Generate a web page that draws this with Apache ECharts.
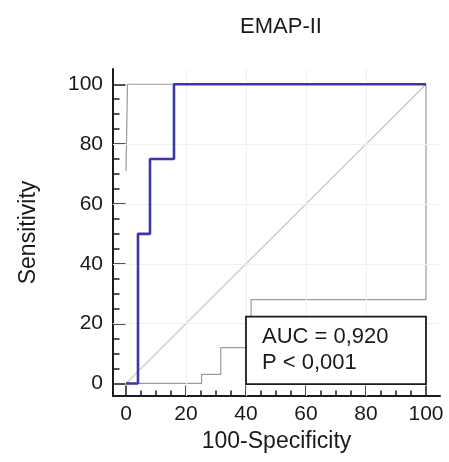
<!DOCTYPE html>
<html><head><meta charset="utf-8">
<script src="https://cdn.jsdelivr.net/npm/echarts@6/dist/echarts.min.js"></script>
<style>html,body{margin:0;padding:0;background:#fff}#c{width:449px;height:462px}</style>
</head><body><div id="c"></div>
<script>
// ---- data ----
var titleText = 'EMAP-II';
var xName = '100-Specificity';
var yName = 'Sensitivity';
var majorTicks = [0, 20, 40, 60, 80, 100];
var minorTicks = [5, 10, 15, 25, 30, 35, 45, 50, 55, 65, 70, 75, 85, 90, 95];
// ROC curve vertices (100-Specificity, Sensitivity)
var rocX = [0, 4, 4, 8, 8, 16, 16, 100];
var rocY = [0, 0, 50, 50, 75, 75, 100, 100];
// upper confidence bound
var upX = [0, 0.5, 100];
var upY = [71, 100, 100];
// lower confidence bound
var loX = [0, 25.2, 25.2, 31.6, 31.6, 41.7, 41.7, 100, 100];
var loY = [0, 0, 3, 3, 12, 12, 28, 28, 100];
// reference diagonal
var diagX = [0, 100];
var diagY = [0, 100];
// statistics box
var statLines = ['AUC = 0,920', 'P < 0,001'];
var boxX = [40, 100];
var boxY = [-0.2, 22.3];

function pairs(xs, ys) { return xs.map(function (x, i) { return [x, ys[i]]; }); }

var FONT = '"Liberation Sans", Arial, Helvetica, sans-serif';
var xMin = -4.33, xMax = 104.67, yMin = -4.2, yMax = 105.1;

var chart = echarts.init(document.getElementById('c'), null, { renderer: 'canvas' });
chart.setOption({
  backgroundColor: '#fff',
  animation: false,
  title: {
    text: titleText, left: 276, top: 11, textAlign: 'center',
    textStyle: { fontFamily: FONT, fontSize: 22, fontWeight: 'normal', color: '#1a1a1a' }
  },
  grid: { left: 113, right: 9, top: 69, bottom: 66, containLabel: false },
  xAxis: [{
    type: 'value', min: xMin, max: xMax, position: 'bottom',
    name: xName, nameLocation: 'middle', nameGap: 33,
    nameTextStyle: { fontFamily: FONT, fontSize: 23, color: '#1a1a1a' },
    axisLine: { show: true, onZero: false, lineStyle: { color: '#1a1a1a', width: 2 } },
    axisTick: { show: true, inside: true, length: 10.5, customValues: majorTicks, lineStyle: { color: '#1a1a1a', width: 1.5 } },
    axisLabel: { show: true, customValues: majorTicks, margin: 8, fontFamily: FONT, fontSize: 21, color: '#1a1a1a' },
    splitLine: { show: false }
  }, {
    type: 'value', min: xMin, max: xMax, position: 'bottom',
    axisLine: { show: false, onZero: false },
    axisTick: { show: true, inside: true, length: 5.5, customValues: minorTicks, lineStyle: { color: '#1a1a1a', width: 1.5 } },
    axisLabel: { show: false },
    splitLine: { show: false }
  }],
  yAxis: [{
    type: 'value', min: yMin, max: yMax, position: 'left',
    name: yName, nameLocation: 'middle', nameGap: 73, nameRotate: 90,
    nameTextStyle: { fontFamily: FONT, fontSize: 23, color: '#1a1a1a' },
    axisLine: { show: true, onZero: false, lineStyle: { color: '#1a1a1a', width: 2 } },
    axisTick: { show: true, inside: true, length: 12.5, customValues: majorTicks, lineStyle: { color: '#1a1a1a', width: 1.5 } },
    axisLabel: { show: true, customValues: majorTicks, margin: 10, fontFamily: FONT, fontSize: 21, color: '#1a1a1a' },
    splitLine: { show: false }
  }, {
    type: 'value', min: yMin, max: yMax, position: 'left',
    axisLine: { show: false, onZero: false },
    axisTick: { show: true, inside: true, length: 6.5, customValues: minorTicks, lineStyle: { color: '#1a1a1a', width: 1.5 } },
    axisLabel: { show: false },
    splitLine: { show: false }
  }],
  series: [
    {
      type: 'line', name: 'grid', xAxisIndex: 0, yAxisIndex: 0, data: [], z: 1, silent: true,
      markLine: {
        silent: true, symbol: 'none', label: { show: false },
        lineStyle: { color: '#f0f0f0', width: 1, type: 'solid' },
        data: [20, 40, 60, 80].map(function (v) { return { xAxis: v }; })
          .concat([20, 40, 60, 80].map(function (v) { return { yAxis: v }; }))
      }
    },
    {
      type: 'line', name: 'diagonal', xAxisIndex: 0, yAxisIndex: 0, z: 2,
      data: pairs(diagX, diagY), symbol: 'none', silent: true,
      lineStyle: { color: '#c4c4c4', width: 1.2 }
    },
    {
      type: 'line', name: 'upper', xAxisIndex: 0, yAxisIndex: 0, z: 3,
      data: pairs(upX, upY), symbol: 'none', silent: true,
      lineStyle: { color: '#9a9a9a', width: 1.2 }
    },
    {
      type: 'line', name: 'lower', xAxisIndex: 0, yAxisIndex: 0, z: 3,
      data: pairs(loX, loY), symbol: 'none', silent: true,
      lineStyle: { color: '#9a9a9a', width: 1.2 }
    },
    {
      type: 'custom', name: 'box', xAxisIndex: 0, yAxisIndex: 0, z: 10, silent: true, clip: false,
      data: [[boxX[0], boxY[0], boxX[1], boxY[1]]],
      encode: { x: [0, 2], y: [1, 3] },
      renderItem: function (params, api) {
        var p0 = api.coord([api.value(0), api.value(3)]);
        var p1 = api.coord([api.value(2), api.value(1)]);
        return {
          type: 'group',
          children: [{
            type: 'rect',
            shape: { x: p0[0], y: p0[1], width: p1[0] - p0[0], height: p1[1] - p0[1] },
            style: { fill: '#ffffff', stroke: '#1a1a1a', lineWidth: 1.8 }
          }, {
            type: 'text',
            x: p0[0] + 16, y: (p0[1] + p1[1]) / 2,
            style: {
              text: statLines.join('\n'), fontFamily: FONT, fontSize: 22, lineHeight: 26,
              fill: '#1a1a1a', align: 'left', verticalAlign: 'middle'
            }
          }]
        };
      }
    },
    {
      type: 'line', name: 'ROC', xAxisIndex: 0, yAxisIndex: 0, z: 5,
      data: pairs(rocX, rocY), symbol: 'none', silent: true,
      lineStyle: { color: '#3b37a3', width: 2.6 }
    }
  ]
});
</script></body></html>
